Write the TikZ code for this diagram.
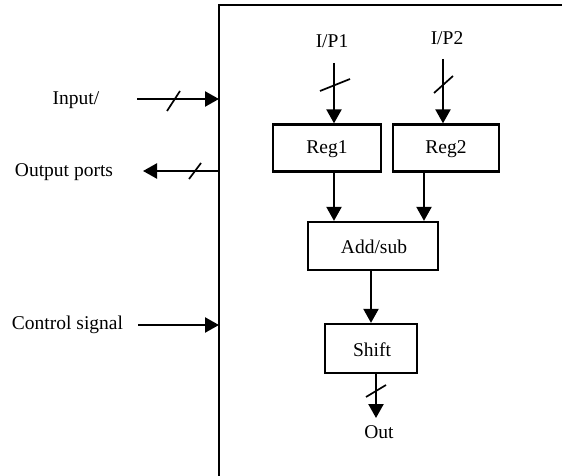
\documentclass[tikz,border=0pt]{standalone}
\usepackage{fontspec}
\setmainfont{Liberation Serif}
\usetikzlibrary{arrows.meta}

\tikzset{
  wire/.style={line width=2.3pt, -{Triangle[length=14pt,width=15pt]}},
  busmark/.style={line width=1.7pt},
  blockbox/.style={draw, line width=2.3pt, rectangle, inner sep=0pt, anchor=center},
  frameline/.style={line width=2.8pt},
  lbl/.style={inner sep=0pt, anchor=center, font=\fontsize{19.5}{23}\selectfont}
}

\begin{document}
\begin{tikzpicture}[x=1pt,y=-1pt]
\useasboundingbox (0,0) rectangle (562,476);

% enclosing unit (only top and left edges fall inside the page)
\coordinate (frameTR) at (565,5);
\coordinate (frameTL) at (219,5);
\coordinate (frameBL) at (219,480);
\draw[frameline] (frameTR) -- (frameTL) -- (frameBL);

% external port labels
\node[lbl] (inlbl)   at (76,100)  {Input/};
\node[lbl] (outlbl)  at (64,172)  {Output ports};
\node[lbl] (ctrllbl) at (67.5,325) {Control signal};

% internal blocks
\node[blockbox, minimum width=108pt, minimum height=47pt] (reg1) at (327,148) {};
\node[lbl] (reg1t) at (327,149) {Reg1};
\node[blockbox, minimum width=106pt, minimum height=47pt] (reg2) at (446,148) {};
\node[lbl] (reg2t) at (446,149) {Reg2};
\node[blockbox, minimum width=130pt, minimum height=48pt] (add) at (373,246) {};
\node[lbl] (addt) at (374,247) {Add/sub};
\node[blockbox, minimum width=92pt, minimum height=49pt] (shift) at (371,348.5) {};
\node[lbl] (shiftt) at (372,350) {Shift};

% data labels
\node[lbl] (ip1) at (332,41) {I/P1};
\node[lbl] (ip2) at (447,38) {I/P2};
\node[lbl] (out) at (379,432) {Out};

% wire x positions
\coordinate (xa) at (334,0);
\coordinate (xb) at (443,0);
\coordinate (xc) at (424,0);
\coordinate (xd) at (371,0);
\coordinate (xe) at (376,0);

% free ends of the side wires
\coordinate (inS)   at (137,99);
\coordinate (inE)   at (219,99);
\coordinate (outS)  at (219,171);
\coordinate (outE)  at (143,171);
\coordinate (ctrlS) at (138,325);
\coordinate (ctrlE) at (219,325);
\coordinate (ip1S)  at (334,63);
\coordinate (ip2S)  at (443,59);
\coordinate (outT)  at (376,418);

% side wires
\draw[wire] (inS) -- (inE);
\draw[wire] (outS) -- (outE);
\draw[wire] (ctrlS) -- (ctrlE);
\draw[busmark] (167,111) -- (180,91);
\draw[busmark] (189,179) -- (201,163);

% inputs to registers
\draw[wire] (ip1S) -- (reg1.north -| xa);
\draw[wire] (ip2S) -- (reg2.north -| xb);
\draw[busmark] (320,91) -- (350,79);
\draw[busmark] (434,93) -- (453,76);

% datapath
\draw[wire] (reg1.south -| xa) -- (add.north -| xa);
\draw[wire] (reg2.south -| xc) -- (add.north -| xc);
\draw[wire] (add.south -| xd) -- (shift.north -| xd);
\draw[wire] (shift.south -| xe) -- (outT);
\draw[busmark] (366,397) -- (386,385);
\end{tikzpicture}
\end{document}
